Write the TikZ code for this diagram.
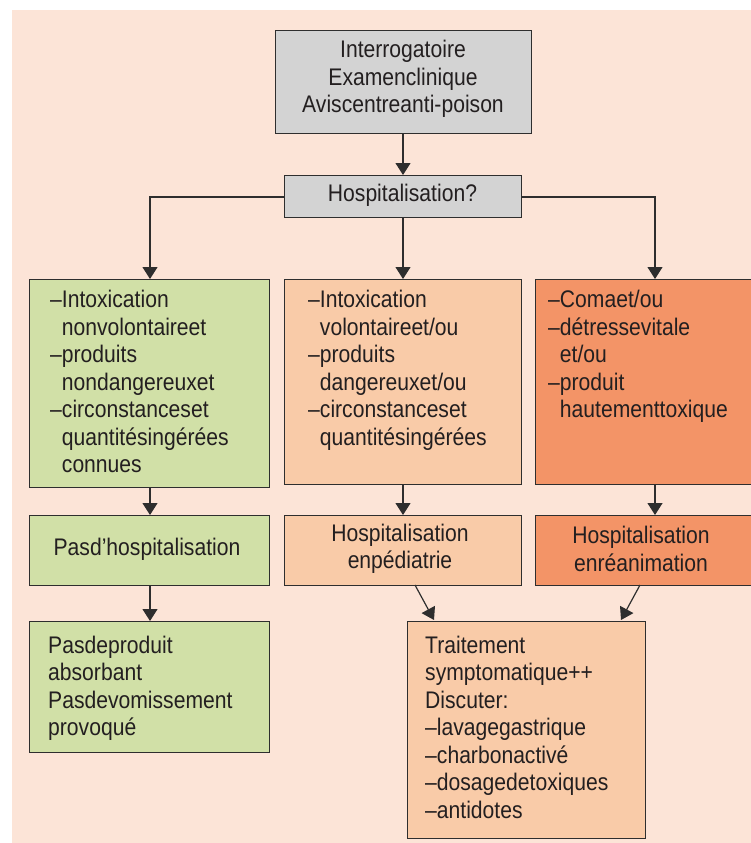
\documentclass[tikz,border=0pt]{standalone}
\usepackage{fontspec}
\setmainfont{Liberation Sans}[FakeStretch=0.88]
\usetikzlibrary{arrows.meta}
\definecolor{bgpeach}{HTML}{FCE4D7}
\definecolor{boxgray}{HTML}{D3D3D3}
\definecolor{boxgreen}{HTML}{D1E0A7}
\definecolor{boxlight}{HTML}{F9CBA8}
\definecolor{boxdark}{HTML}{F39467}
\definecolor{ink}{HTML}{231F20}
\definecolor{edge}{HTML}{2E2E2E}
\newcommand{\ind}{\hphantom{–}}
\begin{document}
\begin{tikzpicture}[x=1pt,y=-1pt,
  every node/.style={text=ink,font=\fontsize{24}{27.5}\selectfont},
  boxshape/.style={draw=edge,line width=1.2pt,inner sep=0pt,anchor=north west},
  txt/.style={inner sep=0pt,anchor=base west,align=left,text width=#1},
  ctxt/.style={inner sep=0pt,align=center},
  conn/.style={draw=edge,line width=1.2pt,-{Triangle[width=15pt,length=12pt]}},
  plain/.style={draw=edge,line width=1.2pt}]
\useasboundingbox (0,0) rectangle (750,843);
\fill[bgpeach] (12,10) rectangle (760,850);

% top box
\node[boxshape,fill=boxgray,minimum width=256pt,minimum height=103pt] (top) at (275,30) {};
\node[ctxt] (toptxt) at (403,79) {Interrogatoire\\Examenclinique\\Aviscentreanti-poison};

% hospitalisation?
\node[boxshape,fill=boxgray,minimum width=237pt,minimum height=42pt] (hosp) at (284,175) {};
\node[ctxt] (hosptxt) at (402.5,195) {Hospitalisation?};

% row 2
\node[boxshape,fill=boxgreen,minimum width=240pt,minimum height=208pt] (b1) at (29,279) {};
\node[boxshape,fill=boxlight,minimum width=237pt,minimum height=205pt] (b2) at (284,279) {};
\node[boxshape,fill=boxdark,minimum width=237pt,minimum height=205pt] (b3) at (535,279) {};

\node[txt=210pt] (b1txt) at (50,307.5) {–Intoxication\\\ind nonvolontaireet\\–produits\\\ind nondangereuxet\\–circonstanceset\\\ind quantitésingérées\\\ind connues};
\node[txt=210pt] (b2txt) at (308,307.5) {–Intoxication\\\ind volontaireet/ou\\–produits\\\ind dangereuxet/ou\\–circonstanceset\\\ind quantitésingérées};
\node[txt=210pt] (b3txt) at (548,307.5) {–Comaet/ou\\–détressevitale\\\ind et/ou\\–produit\\\ind hautementtoxique};

% row 3
\node[boxshape,fill=boxgreen,minimum width=240pt,minimum height=70pt] (r1) at (29,515) {};
\node[boxshape,fill=boxlight,minimum width=237pt,minimum height=70pt] (r2) at (284,515) {};
\node[boxshape,fill=boxdark,minimum width=237pt,minimum height=70pt] (r3) at (535,515) {};
\node[ctxt] (r1txt) at (147,549) {Pasd’hospitalisation};
\node[ctxt] (r2txt) at (400,549) {Hospitalisation\\enpédiatrie};
\node[ctxt] (r3txt) at (641,549) {Hospitalisation\\enréanimation};

% row 4
\node[boxshape,fill=boxgreen,minimum width=240pt,minimum height=131pt] (g4) at (29,621) {};
\node[txt=215pt] (g4txt) at (48,653) {Pasdeproduit\\absorbant\\Pasdevomissement\\provoqué};
\node[boxshape,fill=boxlight,minimum width=238pt,minimum height=217pt] (tr) at (407,621) {};
\node[txt=215pt] (trtxt) at (425,653) {Traitement\\symptomatique++\\Discuter:\\–lavagegastrique\\–charbonactivé\\–dosagedetoxiques\\–antidotes};

% connector points
\coordinate (jl) at (150,197);
\coordinate (jr) at (655,197);
\coordinate (b1n) at (150,279);
\coordinate (b3n) at (655,279);
\coordinate (b1s) at (150,487);
\coordinate (r1n) at (150,515);
\coordinate (b2s) at (403,484);
\coordinate (r2n) at (403,515);
\coordinate (b3s) at (655,484);
\coordinate (r3n) at (655,515);
\coordinate (r1s) at (150,585);
\coordinate (g4n) at (150,621);
\coordinate (r2a) at (415,585);
\coordinate (tra) at (434,620);
\coordinate (r3a) at (640,585);
\coordinate (trb) at (621,620);
\coordinate (tops) at (403,133);
\coordinate (hospn) at (403,175);
\coordinate (hosps) at (403,217);
\coordinate (b2n) at (403,279);

\draw[conn] (tops) -- (hospn);
\draw[conn] (hosp.west |- jl) -- (jl) -- (b1n);
\draw[conn] (hosps) -- (b2n);
\draw[conn] (hosp.east |- jr) -- (jr) -- (b3n);
\draw[conn] (b1s) -- (r1n);
\draw[conn] (b2s) -- (r2n);
\draw[conn] (b3s) -- (r3n);
\draw[conn] (r1s) -- (g4n);
\draw[conn] (r2a) -- (tra);
\draw[conn] (r3a) -- (trb);
\end{tikzpicture}
\end{document}
